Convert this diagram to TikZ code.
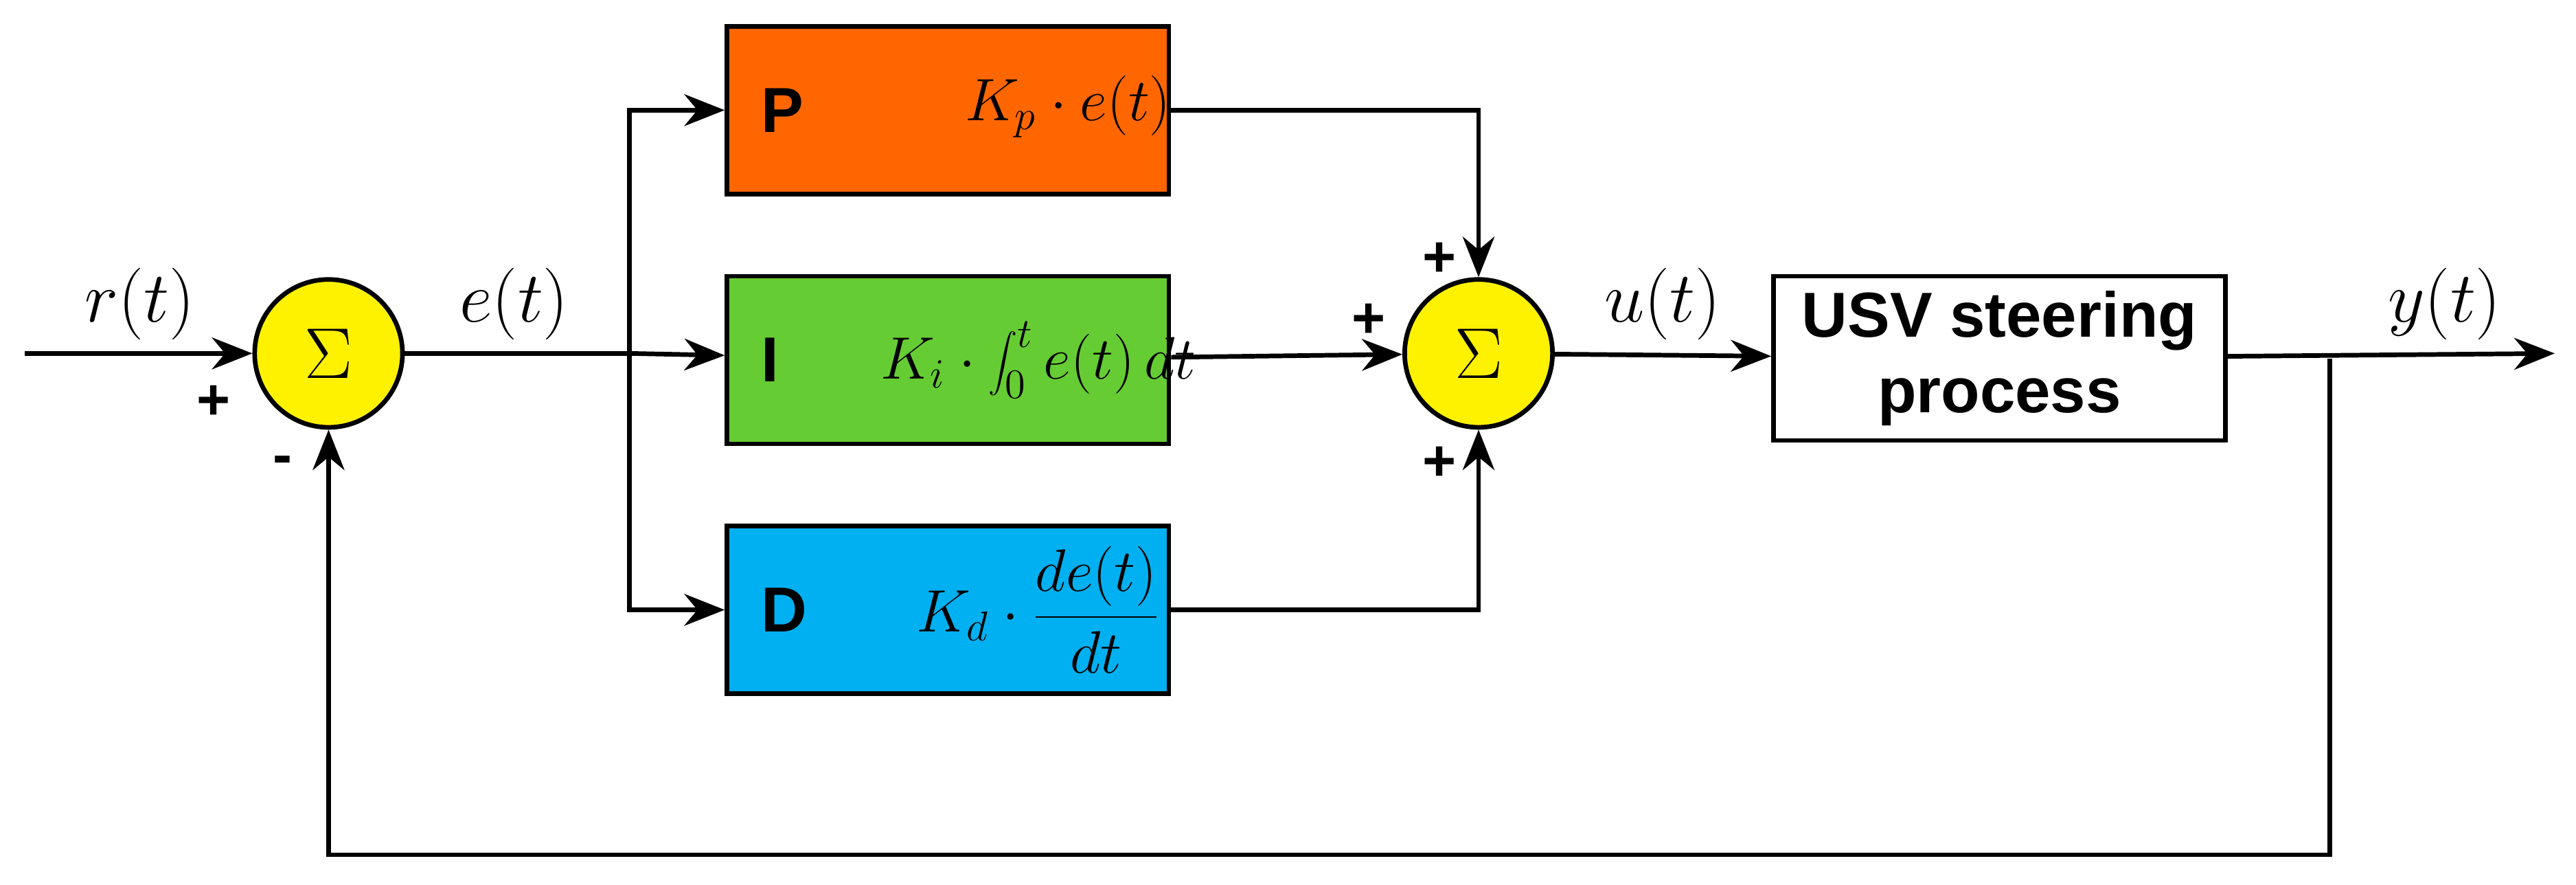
\documentclass[tikz,border=0pt]{standalone}
\usepackage{fontspec}
\setmainfont{Liberation Serif}
\setsansfont{Liberation Sans}
\usetikzlibrary{arrows.meta}
\begin{document}
\begin{tikzpicture}[x=0.02cm,y=-0.02cm,
 line width=1.6pt,
 arr/.style={-{Stealth[length=14pt,width=11pt]}},
 blk/.style={draw,line width=1.6pt,minimum width=5.38cm,minimum height=2.04cm,inner sep=0pt},
 sum/.style={circle,draw,fill=yellow,line width=1.6pt,minimum size=1.8cm,inner sep=0pt,font=\fontsize{26}{30}\selectfont},
 lab/.style={font=\fontsize{24}{28}\selectfont\itshape},
 sg/.style={font=\sffamily\bfseries\fontsize{20}{24}\selectfont},
 bl/.style={font=\sffamily\bfseries\fontsize{22}{26}\selectfont}]
\useasboundingbox (0,0) rectangle (1568,538);
\definecolor{po}{RGB}{255,102,0}
\definecolor{ig}{RGB}{102,204,51}
\definecolor{db}{RGB}{0,176,240}
\node[sum] (s1) at (200,215) {$\Sigma$};
\node[sum] (s2) at (900,215) {$\Sigma$};
\node[blk,fill=po] (P) at (577,67) {};
\node[blk,fill=ig] (I) at (577,219) {};
\node[blk,fill=db] (D) at (577,371) {};
\node[draw,line width=1.6pt,minimum width=5.5cm,minimum height=2cm,align=center,bl] (U) at (1217,218) {USV steering\\process};
\node[bl,anchor=west] at (P.west) {\hspace{0.3cm}P};
\node[bl,anchor=west] at (I.west) {\hspace{0.3cm}I};
\node[bl,anchor=west] at (D.west) {\hspace{0.3cm}D};
\node[font=\fontsize{22}{26}\selectfont] at (650,65) {$K_p\cdot e\big(t\big)$};
\node[font=\fontsize{22}{26}\selectfont] at (632,219) {$K_i\cdot\displaystyle\int_0^t e\big(t\big)\,dt$};
\node[font=\fontsize{22}{26}\selectfont] at (632,371) {$K_d\cdot\displaystyle\frac{de\big(t\big)}{dt}$};
\coordinate (in) at (15,215);
\coordinate (br) at (383,215);
\coordinate (out) at (1555,215);
\coordinate (fb) at (1418,218);
\draw[arr] (in) -- (s1);
\draw (s1) -- (br);
\draw[arr] (br) -- (I);
\draw[arr] (br) |- (P);
\draw[arr] (br) |- (D);
\draw[arr] (P) -| (s2);
\draw[arr] (D) -| (s2);
\draw[arr] (I) -- (s2);
\draw[arr] (s2) -- (U);
\draw[arr] (U) -- (out);
\draw[arr] (fb) -- (1418,520) -| (s1);
\node[lab] at (85,185) {$r\big(t\big)$};
\node[lab] at (313,185) {$e\big(t\big)$};
\node[lab] at (1012,185) {$u\big(t\big)$};
\node[lab] at (1488,185) {$y\big(t\big)$};
\node[sg] at (130,245) {+};
\node[sg] at (172,283) {-};
\node[sg] at (876,158) {+};
\node[sg] at (833,195) {+};
\node[sg] at (876,282) {+};
\end{tikzpicture}
\end{document}
